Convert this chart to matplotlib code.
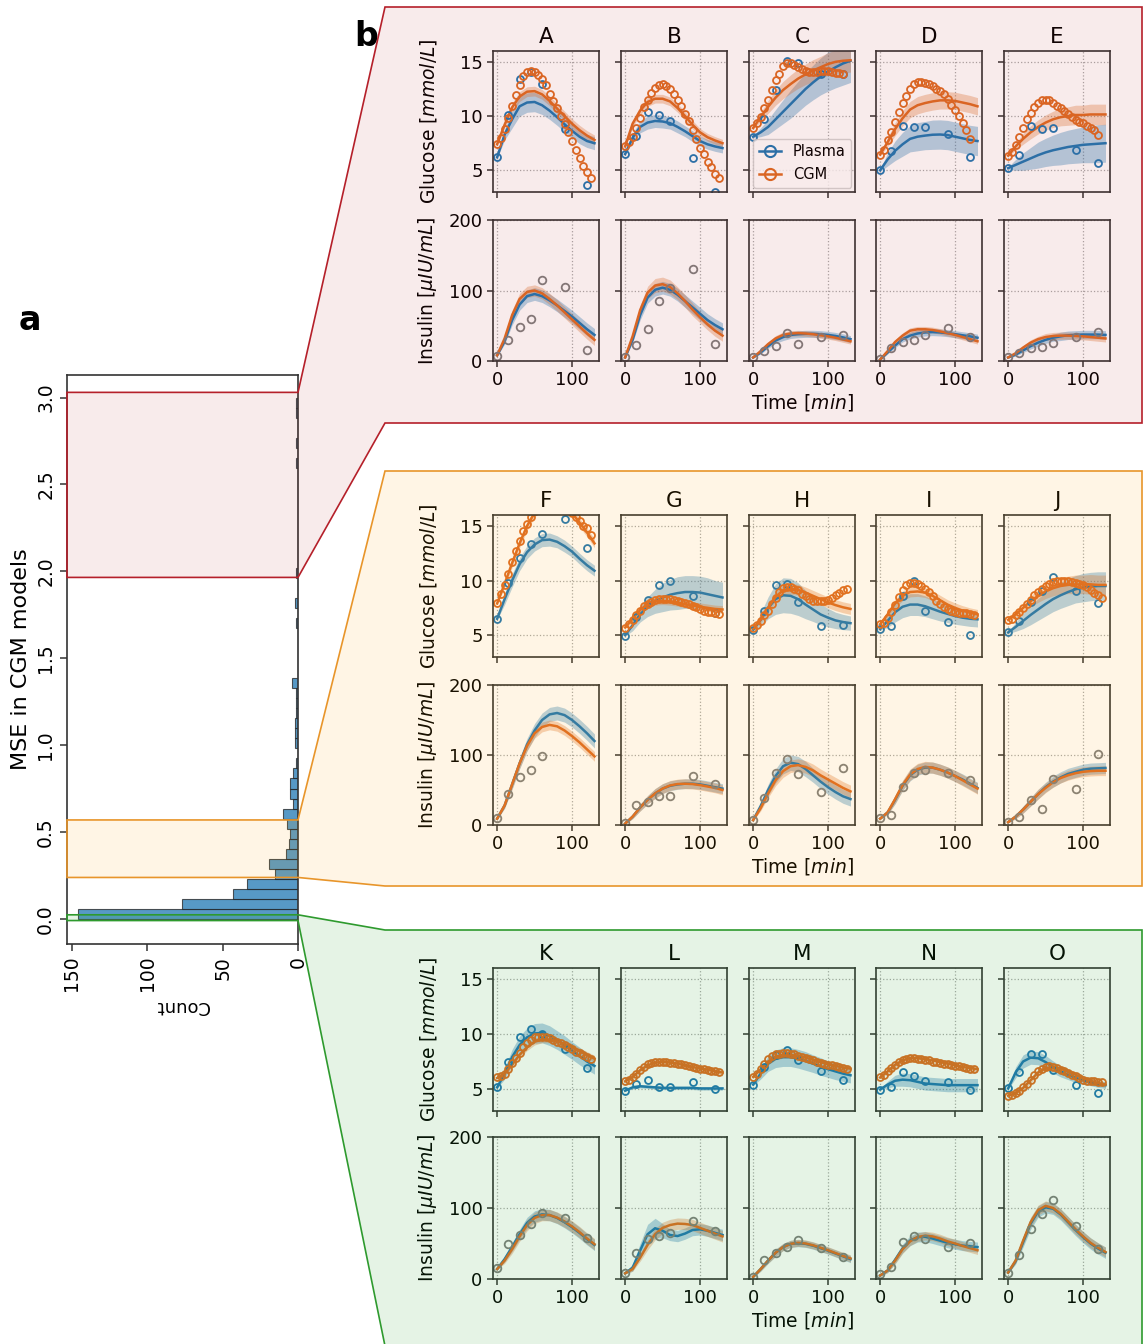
import numpy as np
import matplotlib
matplotlib.use("Agg")
import matplotlib.pyplot as plt
import matplotlib.transforms as mtransforms
from matplotlib.patches import Polygon
from matplotlib.lines import Line2D

W, H = 1148, 1344

PANELS = list("ABCDEFGHIJKLMNO")
T_OGTT = [0, 15, 30, 45, 60, 90, 120]
T_FIT = [0, 10, 20, 30, 40, 50, 60, 70, 80, 90, 100, 110, 120, 130]
CGM_STEP = 5  # minutes between CGM readings

# ---- panel a: histogram of MSE ----
HIST_LO, HIST_HI = 0.0, 3.0
HIST_COUNTS = [146, 77, 43, 34, 15, 19, 8, 6, 5, 7, 10, 3, 5, 5, 3, 1, 0, 2, 2, 2,
               1, 1, 1, 4, 0, 0, 0, 0, 0, 1, 0, 2, 0, 0, 1, 0, 0, 0, 0, 0,
               0, 0, 0, 0, 0, 1, 0, 1, 0, 0, 1, 1]
# MSE ranges highlighted in a (low, high)
MSE_RANGES = [(1.965, 3.03), (0.238, 0.569), (-0.01, 0.023)]

# ---- panel b: glucose ----
GLC_PLASMA_OBS = [
    [6.2, 10.1, 13.4, 14.1, 13.0, 8.8, 3.6],
    [6.5, 8.2, 10.4, 10.1, 9.5, 6.1, 3.0],
    [8.1, 9.75, 12.4, 15.1, 14.85, 13.9, 13.9],
    [5.0, 6.8, 9.1, 8.95, 8.95, 8.35, 6.2],
    [5.2, 6.4, 9.1, 8.85, 8.9, 6.85, 5.7],
    [6.5, 9.8, 12.1, 13.35, 14.3, 15.6, 13.0],
    [4.95, 6.7, 8.2, 9.55, 10.0, 8.55, 7.0],
    [5.5, 7.25, 9.55, 9.65, 8.0, 5.85, 5.95],
    [5.55, 5.85, 8.6, 10.0, 7.25, 6.25, 5.0],
    [5.25, 6.3, 8.0, 9.0, 10.3, 9.0, 7.95],
    [5.15, 7.5, 9.7, 10.5, 10.0, 8.6, 6.95],
    [4.85, 5.5, 5.85, 5.15, 5.15, 5.6, 5.0],
    [5.4, 7.0, 8.1, 8.55, 7.6, 6.6, 5.85],
    [4.95, 5.2, 6.55, 6.15, 5.75, 5.6, 4.9],
    [5.05, 6.55, 8.2, 8.15, 6.7, 5.4, 4.6],
]

GLC_CGM_OBS = [
    [7.4, 8.0, 8.8, 9.8, 10.9, 11.9, 12.9, 13.7, 14.1, 14.2, 14.1, 13.8, 13.4, 12.9, 12.0, 11.4, 10.7, 10.0, 9.3, 8.5, 7.7, 6.9, 6.1, 5.4, 4.8, 4.3],
    [7.25, 7.65, 8.1, 8.9, 9.8, 10.8, 11.5, 12.1, 12.6, 12.9, 13.0, 12.8, 12.5, 12.0, 11.5, 10.9, 10.2, 9.5, 8.7, 7.9, 7.1, 6.5, 5.8, 5.3, 4.7, 4.3],
    [8.9, 9.4, 9.9, 10.75, 11.5, 12.4, 13.3, 13.9, 14.6, 14.9, 14.9, 14.75, 14.55, 14.3, 14.15, 14.1, 14.1, 14.1, 14.15, 14.2, 14.2, 14.1, 14.0, 13.95, 13.9],
    [6.45, 6.9, 7.75, 8.55, 9.45, 10.4, 11.2, 11.85, 12.5, 12.95, 13.15, 13.15, 13.05, 12.95, 12.75, 12.5, 12.3, 12.0, 11.6, 11.05, 10.55, 10.0, 9.4, 8.7, 7.85],
    [6.35, 6.7, 7.3, 8.1, 8.9, 9.7, 10.3, 10.8, 11.2, 11.45, 11.5, 11.45, 11.2, 10.95, 10.7, 10.45, 10.2, 9.95, 9.65, 9.45, 9.35, 9.05, 8.9, 8.75, 8.3],
    [7.9, 8.75, 9.55, 10.6, 11.7, 12.7, 13.65, 14.5, 15.2, 15.85, 16.4, 16.9, 17.3, 17.6, 17.7, 17.7, 17.5, 17.2, 16.9, 16.6, 16.2, 15.85, 15.45, 15.0, 14.8, 14.2],
    [5.7, 6.0, 6.4, 6.85, 7.25, 7.65, 7.85, 8.05, 8.25, 8.3, 8.3, 8.3, 8.3, 8.25, 8.15, 8.05, 7.95, 7.85, 7.7, 7.55, 7.4, 7.25, 7.15, 7.1, 7.0, 6.95],
    [5.7, 5.9, 6.3, 6.8, 7.25, 7.85, 8.4, 8.95, 9.35, 9.45, 9.4, 9.25, 9.1, 8.8, 8.55, 8.3, 8.15, 8.1, 8.1, 8.1, 8.2, 8.4, 8.65, 8.9, 9.1, 9.25],
    [6.05, 6.15, 6.55, 7.1, 7.75, 8.5, 9.1, 9.55, 9.75, 9.75, 9.7, 9.5, 9.25, 8.95, 8.55, 8.15, 7.85, 7.55, 7.35, 7.2, 7.1, 7.05, 7.05, 7.0, 6.95, 6.85],
    [6.4, 6.45, 6.8, 7.1, 7.45, 7.85, 8.25, 8.65, 8.95, 9.25, 9.5, 9.7, 9.85, 9.95, 10.0, 10.0, 10.0, 9.9, 9.8, 9.7, 9.55, 9.4, 9.1, 8.9, 8.65, 8.4],
    [6.1, 6.2, 6.4, 6.85, 7.35, 7.85, 8.3, 8.8, 9.2, 9.5, 9.7, 9.75, 9.75, 9.7, 9.6, 9.45, 9.3, 9.15, 9.0, 8.8, 8.6, 8.4, 8.25, 8.1, 7.9, 7.75],
    [5.7, 5.85, 6.05, 6.4, 6.7, 7.0, 7.25, 7.35, 7.45, 7.45, 7.45, 7.45, 7.4, 7.35, 7.3, 7.25, 7.15, 7.05, 7.0, 6.9, 6.85, 6.8, 6.75, 6.65, 6.6, 6.55],
    [6.1, 6.4, 6.85, 7.3, 7.7, 8.0, 8.15, 8.2, 8.3, 8.3, 8.2, 8.15, 8.0, 7.9, 7.8, 7.7, 7.6, 7.5, 7.4, 7.3, 7.2, 7.15, 7.1, 7.0, 6.95, 6.85],
    [6.1, 6.3, 6.6, 6.9, 7.2, 7.45, 7.65, 7.75, 7.8, 7.8, 7.75, 7.7, 7.65, 7.6, 7.5, 7.45, 7.4, 7.3, 7.25, 7.2, 7.1, 7.05, 7.0, 6.9, 6.85, 6.8],
    [4.4, 4.45, 4.65, 4.85, 5.15, 5.45, 5.85, 6.25, 6.6, 6.85, 7.0, 7.05, 7.0, 6.9, 6.75, 6.6, 6.45, 6.3, 6.15, 6.0, 5.85, 5.75, 5.7, 5.7, 5.6, 5.6],
]

GLC_PLASMA_FIT = [
    [6.2, 8.3, 9.7, 10.9, 11.25, 11.3, 11.0, 10.5, 9.9, 9.25, 8.65, 8.1, 7.7, 7.5],
    [6.5, 8.0, 9.0, 9.4, 9.55, 9.5, 9.35, 9.0, 8.6, 8.15, 7.7, 7.4, 7.2, 7.05],
    [8.1, 8.5, 9.0, 9.7, 10.4, 11.1, 11.8, 12.5, 13.1, 13.65, 14.1, 14.5, 14.85, 15.1],
    [5.0, 6.0, 6.8, 7.4, 7.9, 8.1, 8.2, 8.28, 8.3, 8.25, 8.1, 7.95, 7.8, 7.7],
    [5.2, 5.5, 5.8, 6.1, 6.4, 6.65, 6.85, 7.0, 7.15, 7.25, 7.35, 7.4, 7.45, 7.5],
    [6.5, 8.3, 10.0, 11.5, 12.6, 13.3, 13.7, 13.75, 13.55, 13.15, 12.65, 12.0, 11.4, 10.9],
    [5.0, 5.9, 6.9, 7.6, 8.1, 8.45, 8.7, 8.85, 8.95, 8.95, 8.9, 8.75, 8.6, 8.45],
    [5.5, 6.4, 7.5, 8.3, 8.65, 8.6, 8.3, 7.8, 7.35, 6.9, 6.6, 6.35, 6.2, 6.1],
    [5.55, 6.3, 7.1, 7.6, 7.8, 7.8, 7.65, 7.4, 7.15, 6.95, 6.75, 6.6, 6.5, 6.45],
    [5.25, 5.75, 6.3, 6.85, 7.35, 7.85, 8.3, 8.65, 8.95, 9.2, 9.35, 9.45, 9.5, 9.5],
    [5.15, 6.4, 7.9, 9.0, 9.7, 10.05, 10.1, 9.85, 9.45, 9.0, 8.5, 8.0, 7.5, 7.1],
    [4.85, 5.15, 5.25, 5.2, 5.15, 5.1, 5.1, 5.1, 5.1, 5.1, 5.05, 5.05, 5.05, 5.05],
    [5.4, 6.4, 7.3, 7.75, 7.9, 7.9, 7.75, 7.55, 7.3, 7.05, 6.8, 6.6, 6.4, 6.25],
    [4.95, 5.4, 5.75, 5.85, 5.8, 5.65, 5.5, 5.45, 5.4, 5.35, 5.35, 5.35, 5.35, 5.35],
    [5.05, 6.5, 7.5, 7.85, 7.8, 7.45, 7.0, 6.6, 6.3, 6.0, 5.8, 5.6, 5.45, 5.35],
]
GLC_PLASMA_HW = [
    [0.1, 0.5, 0.8, 0.9, 0.9, 0.9, 0.85, 0.8, 0.75, 0.7, 0.65, 0.65, 0.6, 0.6],
    [0.1, 0.4, 0.55, 0.6, 0.6, 0.6, 0.55, 0.55, 0.5, 0.5, 0.45, 0.45, 0.45, 0.45],
    [0.1, 0.4, 0.7, 0.9, 1.1, 1.3, 1.4, 1.5, 1.6, 1.7, 1.8, 1.9, 2.0, 2.0],
    [0.1, 0.6, 0.9, 1.1, 1.2, 1.3, 1.3, 1.35, 1.35, 1.35, 1.35, 1.35, 1.35, 1.35],
    [0.1, 0.5, 0.8, 1.0, 1.2, 1.3, 1.4, 1.5, 1.55, 1.6, 1.65, 1.7, 1.75, 1.75],
    [0.1, 0.5, 0.6, 0.6, 0.6, 0.6, 0.6, 0.6, 0.55, 0.55, 0.5, 0.5, 0.5, 0.5],
    [0.1, 0.5, 0.7, 0.9, 1.1, 1.3, 1.4, 1.5, 1.5, 1.5, 1.5, 1.5, 1.4, 1.4],
    [0.1, 0.6, 1.0, 1.4, 1.6, 1.6, 1.5, 1.3, 1.1, 0.95, 0.85, 0.75, 0.7, 0.65],
    [0.1, 0.6, 0.9, 1.0, 1.0, 1.0, 0.95, 0.9, 0.85, 0.8, 0.75, 0.7, 0.7, 0.7],
    [0.1, 0.4, 0.7, 0.9, 1.0, 1.1, 1.15, 1.2, 1.25, 1.25, 1.3, 1.3, 1.3, 1.3],
    [0.1, 0.5, 0.7, 0.8, 0.85, 0.9, 0.9, 0.9, 0.85, 0.85, 0.8, 0.8, 0.75, 0.75],
    [0.05, 0.15, 0.15, 0.15, 0.15, 0.15, 0.15, 0.15, 0.15, 0.15, 0.15, 0.15, 0.15, 0.15],
    [0.1, 0.5, 0.7, 0.8, 0.85, 0.85, 0.85, 0.85, 0.8, 0.8, 0.75, 0.75, 0.7, 0.7],
    [0.05, 0.3, 0.5, 0.6, 0.6, 0.6, 0.6, 0.6, 0.6, 0.6, 0.6, 0.6, 0.6, 0.6],
    [0.1, 0.5, 0.6, 0.6, 0.6, 0.6, 0.55, 0.5, 0.45, 0.4, 0.35, 0.3, 0.3, 0.3],
]

GLC_CGM_FIT = [
    [7.4, 9.2, 10.8, 11.8, 12.25, 12.3, 12.0, 11.4, 10.7, 10.0, 9.3, 8.7, 8.2, 7.8],
    [7.2, 9.3, 10.5, 11.3, 11.6, 11.6, 11.35, 10.75, 10.0, 9.2, 8.5, 8.05, 7.75, 7.5],
    [8.9, 9.9, 10.85, 11.7, 12.4, 12.95, 13.45, 13.85, 14.2, 14.5, 14.8, 15.0, 15.1, 15.15],
    [6.45, 7.6, 8.8, 9.8, 10.6, 11.0, 11.2, 11.35, 11.45, 11.45, 11.4, 11.25, 11.1, 10.9],
    [6.35, 7.2, 7.9, 8.5, 9.0, 9.4, 9.7, 9.9, 10.0, 10.1, 10.1, 10.15, 10.15, 10.15],
    [7.9, 9.7, 11.6, 13.4, 15.0, 16.2, 17.0, 17.3, 17.2, 16.8, 16.2, 15.3, 14.4, 13.4],
    [5.7, 6.5, 7.3, 7.85, 8.1, 8.15, 8.1, 8.0, 7.85, 7.7, 7.6, 7.5, 7.4, 7.35],
    [5.6, 6.4, 7.5, 8.5, 9.1, 9.25, 9.15, 8.9, 8.6, 8.3, 8.0, 7.75, 7.55, 7.4],
    [6.0, 6.9, 7.9, 8.6, 8.95, 9.0, 8.9, 8.6, 8.2, 7.8, 7.5, 7.25, 7.05, 6.9],
    [6.4, 6.9, 7.5, 8.1, 8.6, 9.0, 9.3, 9.5, 9.6, 9.65, 9.65, 9.65, 9.6, 9.6],
    [6.0, 6.4, 7.2, 8.1, 8.8, 9.3, 9.5, 9.5, 9.35, 9.1, 8.8, 8.45, 8.1, 7.75],
    [5.7, 6.1, 6.7, 7.15, 7.4, 7.45, 7.4, 7.3, 7.15, 7.0, 6.85, 6.75, 6.6, 6.5],
    [6.1, 6.8, 7.5, 7.95, 8.1, 8.1, 8.0, 7.85, 7.65, 7.45, 7.25, 7.1, 6.95, 6.85],
    [6.05, 6.6, 7.2, 7.6, 7.8, 7.8, 7.7, 7.6, 7.45, 7.3, 7.15, 7.0, 6.9, 6.8],
    [4.4, 4.6, 5.1, 5.8, 6.5, 6.9, 7.0, 6.85, 6.6, 6.3, 6.0, 5.75, 5.55, 5.4],
]
GLC_CGM_HW = [
    [0.1, 0.3, 0.4, 0.45, 0.45, 0.45, 0.45, 0.45, 0.45, 0.45, 0.45, 0.45, 0.45, 0.45],
    [0.1, 0.3, 0.4, 0.4, 0.4, 0.4, 0.4, 0.4, 0.4, 0.4, 0.35, 0.35, 0.35, 0.35],
    [0.1, 0.4, 0.6, 0.7, 0.8, 0.85, 0.9, 0.95, 1.0, 1.0, 1.05, 1.1, 1.1, 1.1],
    [0.1, 0.4, 0.6, 0.7, 0.75, 0.8, 0.8, 0.8, 0.8, 0.8, 0.8, 0.8, 0.8, 0.8],
    [0.1, 0.3, 0.5, 0.6, 0.65, 0.7, 0.75, 0.8, 0.85, 0.9, 0.9, 0.95, 0.95, 0.95],
    [0.1, 0.3, 0.4, 0.4, 0.4, 0.4, 0.4, 0.4, 0.4, 0.4, 0.4, 0.4, 0.4, 0.4],
    [0.1, 0.3, 0.35, 0.35, 0.35, 0.35, 0.35, 0.35, 0.35, 0.35, 0.35, 0.35, 0.35, 0.35],
    [0.1, 0.3, 0.4, 0.45, 0.5, 0.5, 0.5, 0.5, 0.5, 0.5, 0.5, 0.5, 0.5, 0.5],
    [0.1, 0.3, 0.4, 0.45, 0.45, 0.45, 0.45, 0.45, 0.45, 0.45, 0.45, 0.45, 0.45, 0.45],
    [0.1, 0.3, 0.4, 0.5, 0.6, 0.65, 0.7, 0.75, 0.8, 0.85, 0.85, 0.9, 0.9, 0.9],
    [0.1, 0.2, 0.3, 0.3, 0.3, 0.3, 0.3, 0.3, 0.3, 0.3, 0.3, 0.3, 0.3, 0.3],
    [0.1, 0.2, 0.3, 0.3, 0.3, 0.3, 0.3, 0.3, 0.3, 0.3, 0.3, 0.3, 0.3, 0.3],
    [0.1, 0.2, 0.3, 0.3, 0.3, 0.3, 0.3, 0.3, 0.3, 0.3, 0.3, 0.3, 0.3, 0.3],
    [0.1, 0.2, 0.3, 0.3, 0.3, 0.3, 0.3, 0.3, 0.3, 0.3, 0.3, 0.3, 0.3, 0.3],
    [0.1, 0.2, 0.25, 0.25, 0.25, 0.25, 0.25, 0.25, 0.25, 0.25, 0.25, 0.25, 0.25, 0.25],
]

# ---- panel b: insulin ----
NA = float("nan")
INS_OBS = [
    [7.5, 30, 48.7, 59, 115, 104.5, 15.6],
    [5, 22.7, 46, 85.6, 103, 130, 24],
    [6, 14.7, 21, 40, 24, 33.6, 37],
    [2.4, 19, 27.4, 30, 37, 47, 34.5],
    [6, 11, 19, 20, 26, 34.5, 41.6],
    [9.5, 43.7, 68.4, 78.4, 98.3, NA, NA],
    [2.4, 28.5, 33, 41, 41, 70, 58.4],
    [7, 39, 74.6, 95, 73, 47.5, 81.7],
    [10.5, 14, 54.6, 74.6, 78.4, 73.6, 64],
    [4.75, 12, 35.6, 22.3, 65.5, 51.3, 101],
    [15, 49.4, 62, 77.6, 92.7, 85.6, 57.4],
    [8, 37, 57, 60.7, 64.5, 81, 67],
    [3.3, 27, 36, 45.6, 55, 43, 31.5],
    [7, 17.4, 52.7, 60, 56.5, 45.6, 51.3],
    [8, 34, 70.6, 92, 110.6, 74, 42],
]
INS_PLASMA_FIT = [
    [8, 28, 58, 80, 92, 95, 92, 86, 79, 71, 63, 54, 45, 37],
    [5, 30, 65, 90, 101, 104, 101, 94, 85, 76, 67, 58, 51, 45],
    [5, 12, 21, 29, 34, 37, 38, 38.5, 38.5, 38, 37, 35.5, 33.5, 31],
    [2, 12, 22, 31, 36, 39, 40.5, 41, 40.5, 39.5, 38, 36.5, 35, 33],
    [5, 9, 15, 21, 26, 30, 33, 35, 36.5, 37, 37.5, 37.5, 37.5, 37],
    [9, 28, 58, 88, 115, 135, 150, 158, 160, 157, 150, 141, 131, 120],
    [2, 12, 25, 36, 45, 52, 56, 58, 59, 59, 58, 56, 54, 52],
    [7, 27, 50, 70, 84, 89, 87, 80, 71, 62, 54, 47, 41, 37],
    [9, 18, 36, 56, 71, 79, 82, 82, 79, 75, 70, 65, 59, 53],
    [4, 12, 22, 33, 44, 54, 62, 68, 73, 76, 79, 80.5, 81, 81.5],
    [14, 28, 45, 63, 79, 88, 91, 90, 86, 80, 73, 65, 56, 48],
    [8, 16, 40, 63, 71.5, 68, 62, 60.5, 64, 69, 70, 68, 65, 62],
    [3, 14, 26, 37, 45, 49.5, 50.5, 49.5, 47, 43.5, 40, 36, 32, 28],
    [5, 12, 27, 43, 54, 59, 59.5, 57, 54, 51, 49, 47, 46, 45],
    [9, 25, 52, 78, 95, 101, 99, 91, 80, 69, 59, 50, 43, 37],
]
INS_PLASMA_HW = [
    [1, 4, 7, 8, 9, 9, 9, 9, 9, 9, 9, 9, 9, 9],
    [1, 4, 7, 8, 9, 9, 9, 9, 9, 9, 9, 9, 9, 9],
    [1, 2, 3, 4, 5, 5, 5, 5, 5, 5, 5, 5, 5, 5],
    [1, 2, 3, 4, 5, 5, 5, 5, 5, 5, 5, 5, 5, 5],
    [1, 2, 3, 4, 5, 5, 5, 6, 6, 6, 6, 6, 6, 6],
    [1, 4, 7, 8, 9, 10, 10, 10, 10, 10, 10, 10, 10, 10],
    [1, 3, 5, 6, 7, 7, 7, 7, 7, 7, 7, 7, 7, 7],
    [1, 5, 8, 10, 11, 11, 11, 11, 10, 10, 10, 10, 10, 10],
    [1, 3, 6, 7, 8, 8, 8, 8, 8, 8, 8, 8, 8, 8],
    [1, 3, 5, 6, 7, 7, 8, 8, 8, 8, 8, 8, 8, 8],
    [1, 4, 6, 7, 8, 8, 8, 8, 8, 8, 8, 8, 8, 8],
    [1, 5, 10, 14, 14, 10, 8, 8, 8, 8, 8, 8, 8, 8],
    [1, 3, 4, 5, 5, 5, 5, 5, 5, 5, 5, 5, 5, 5],
    [1, 3, 5, 6, 7, 7, 7, 7, 7, 7, 7, 7, 7, 7],
    [1, 4, 7, 8, 8, 8, 8, 8, 8, 8, 8, 8, 8, 8],
]
INS_CGM_FIT = [
    [8, 32, 65, 88, 98, 100, 96, 88, 79, 69, 59, 49, 39, 30],
    [5, 35, 72, 97, 107, 109, 105, 96, 85, 73, 62, 52, 43, 36],
    [5, 14, 24, 32, 37, 39, 39.5, 39, 38, 36.5, 35, 33, 30.5, 28],
    [2, 14, 27, 36, 43, 45, 45, 44, 42, 39.5, 37, 34, 31, 28],
    [5, 11, 19, 26, 31, 34, 35.5, 36, 36, 35.5, 35, 34, 33, 32],
    [9, 28, 58, 88, 113, 131, 140, 143, 141, 135, 127, 118, 108, 98],
    [2, 12, 25, 36, 45, 52, 56.5, 58.5, 59, 58.5, 57, 55, 53, 50],
    [7, 24, 45, 64, 77, 84, 85.5, 83, 78, 71, 65, 59, 53, 48],
    [9, 18, 37, 57, 72, 80, 83, 82, 79, 75, 70, 64, 58, 52],
    [4, 12, 22, 33, 44, 53, 61, 67, 71, 74, 76, 77, 77.5, 77.5],
    [14, 26, 42, 60, 76, 86, 90, 90, 86.5, 81, 74, 66, 57, 49],
    [8, 14, 30, 48, 63, 72, 76, 78, 77.5, 76, 72, 68, 64, 60],
    [3, 14, 26, 37, 45, 49.5, 51, 50, 47.5, 44, 40.5, 36.5, 32.5, 29],
    [5, 12, 26, 42, 53, 59, 61, 60, 57, 53, 50, 46.5, 43.5, 40.5],
    [9, 26, 54, 80, 97, 103, 100, 92, 81, 70, 60, 51, 44, 38],
]
INS_CGM_HW = [
    [1, 4, 7, 8, 8, 8, 8, 8, 8, 8, 8, 8, 8, 8],
    [1, 4, 7, 9, 10, 10, 10, 9, 9, 9, 8, 8, 8, 8],
    [1, 2, 3, 4, 4, 4, 4, 4, 4, 4, 4, 4, 4, 4],
    [1, 2, 3, 4, 4, 4, 4, 4, 4, 4, 4, 4, 4, 4],
    [1, 2, 3, 4, 4, 5, 5, 5, 5, 5, 5, 5, 5, 5],
    [1, 4, 6, 7, 7, 7, 7, 7, 7, 7, 7, 7, 7, 7],
    [1, 3, 5, 6, 7, 7, 7, 7, 7, 7, 7, 7, 7, 7],
    [1, 4, 6, 8, 9, 9, 9, 9, 9, 9, 9, 9, 9, 9],
    [1, 3, 6, 7, 8, 8, 8, 8, 8, 8, 8, 8, 8, 8],
    [1, 3, 5, 6, 7, 7, 7, 7, 7, 7, 7, 7, 7, 7],
    [1, 4, 6, 7, 8, 8, 8, 8, 8, 8, 8, 8, 8, 8],
    [1, 3, 5, 7, 8, 8, 8, 8, 8, 8, 8, 8, 8, 8],
    [1, 3, 4, 5, 5, 5, 5, 5, 5, 5, 5, 5, 5, 5],
    [1, 3, 5, 6, 6, 6, 6, 6, 6, 6, 6, 6, 6, 6],
    [1, 4, 6, 7, 7, 7, 7, 7, 7, 7, 7, 7, 7, 7],
]

BLUE = "#1f77b4"
ORANGE = "#de6c24"
GRAY = "#7f7f7f"
SPINE = "#333333"
BOX_EDGE = ["#b5202a", "#e8952a", "#2e9a2e"]
BOX_FILL = ["#b22222", "#ffa500", "#2ca02c"]
BOX_ALPHA = [0.09, 0.1, 0.12]

# layout in pixels
COL_X = [493, 621, 749, 876, 1004]
COL_W = 106
ROWS = [((51, 192), (220, 361)), ((515, 657), (685, 825)), ((968, 1111), (1137, 1279))]
BOXES = [(385, 7, 1142, 423), (385, 471, 1142, 886), (385, 930, 1142, 1346)]


def px_axes(fig, x0, y0, x1, y1):
    return fig.add_axes([x0 / W, 1 - y1 / H, (x1 - x0) / W, (y1 - y0) / H])


def style(ax):
    for s in ax.spines.values():
        s.set_color(SPINE)
        s.set_linewidth(1.2)
    ax.set_facecolor("none")
    ax.tick_params(labelsize=13, length=4, width=1.1, color=SPINE)
    ax.grid(True, ls=":", color="#aaaaaa", lw=0.9)
    ax.set_axisbelow(True)


def band(ax, fit, hw, color, alpha):
    fit = np.array(fit)
    hw = np.array(hw)
    ax.fill_between(T_FIT, fit - hw, fit + hw, color=color, alpha=alpha, lw=0)


def main():
    fig = plt.figure(figsize=(W / 100, H / 100), dpi=100)

    # ---------- a ----------
    axh = px_axes(fig, 67, 375, 298, 944)
    edges = np.linspace(HIST_LO, HIST_HI, len(HIST_COUNTS) + 1)
    axh.barh(edges[:-1], HIST_COUNTS, height=np.diff(edges), align="edge",
             color=BLUE, alpha=0.75, edgecolor="#222222", lw=0.8)
    axh.set_xlim(153.3, 0)
    axh.set_ylim(-0.145, 3.13)
    axh.set_yticks([0, 0.5, 1.0, 1.5, 2.0, 2.5, 3.0])
    axh.set_xticks([0, 50, 100, 150])
    axh.tick_params(axis="both", labelsize=13.5, length=5, width=1.1, color=SPINE)
    axh.tick_params(axis="y", labelrotation=90)
    axh.tick_params(axis="x", labelrotation=90)
    for lab in axh.get_yticklabels():
        lab.set_va("center")
    axh.set_xlabel("Count", rotation=180, fontsize=13)
    axh.set_ylabel("MSE in CGM models", fontsize=16)
    for s in axh.spines.values():
        s.set_color(SPINE)
        s.set_linewidth(1.2)

    # ---------- b ----------
    for k, name in enumerate(PANELS):
        b, c = divmod(k, 5)
        (g0, g1), (i0, i1) = ROWS[b]
        axg = px_axes(fig, COL_X[c], g0, COL_X[c] + COL_W, g1)
        axi = px_axes(fig, COL_X[c], i0, COL_X[c] + COL_W, i1)

        # glucose
        band(axg, GLC_PLASMA_FIT[k], GLC_PLASMA_HW[k], BLUE, 0.33)
        band(axg, GLC_CGM_FIT[k], GLC_CGM_HW[k], ORANGE, 0.3)
        axg.plot(T_FIT, GLC_PLASMA_FIT[k], color=BLUE, lw=1.8)
        axg.plot(T_FIT, GLC_CGM_FIT[k], color=ORANGE, lw=1.8)
        t_cgm = [CGM_STEP * j for j in range(len(GLC_CGM_OBS[k]))]
        axg.plot(T_OGTT, GLC_PLASMA_OBS[k], "o", mfc="none", mec=BLUE, ms=5, mew=1.3)
        axg.plot(t_cgm, GLC_CGM_OBS[k], "o", mfc="none", mec=ORANGE, ms=5, mew=1.3)

        # insulin
        band(axi, INS_PLASMA_FIT[k], INS_PLASMA_HW[k], BLUE, 0.33)
        band(axi, INS_CGM_FIT[k], INS_CGM_HW[k], ORANGE, 0.3)
        axi.plot(T_FIT, INS_PLASMA_FIT[k], color=BLUE, lw=1.8)
        axi.plot(T_FIT, INS_CGM_FIT[k], color=ORANGE, lw=1.8)
        axi.plot(T_OGTT, INS_OBS[k], "o", mfc="none", mec=GRAY, ms=5.5, mew=1.3)

        for ax in (axg, axi):
            style(ax)
            ax.set_xlim(-5.5, 136)
            ax.set_xticks([0, 100])
        axg.set_ylim(3, 16)
        axg.set_yticks([5, 10, 15])
        axi.set_ylim(0, 200)
        axi.set_yticks([0, 100, 200])
        axg.tick_params(labelbottom=False)
        if c > 0:
            axg.tick_params(labelleft=False)
            axi.tick_params(labelleft=False)
        else:
            axg.set_ylabel("Glucose [$mmol/L$]", fontsize=13.5)
            axi.set_ylabel("Insulin [$\\mu IU/mL$]", fontsize=13.5)
            axg.yaxis.set_label_coords(-0.51, 0.5)
            axi.yaxis.set_label_coords(-0.51, 0.5)
        if c == 2:
            axi.set_xlabel("Time [$min$]", fontsize=13.5, labelpad=2)
        axg.set_title(name, fontsize=15.5, pad=6)

        if k == 2:
            handles = [
                Line2D([], [], color=BLUE, marker="o", mfc="none", lw=1.8, ms=8, mew=1.5),
                Line2D([], [], color=ORANGE, marker="o", mfc="none", lw=1.8, ms=8, mew=1.5),
            ]
            axg.legend(handles, ["Plasma", "CGM"], loc="lower left", fontsize=10.5,
                       handlelength=1.5, borderaxespad=0.3, framealpha=0.8)

    # ---------- zoom connectors ----------
    trans = mtransforms.blended_transform_factory(axh.transAxes, axh.transData)
    inv = fig.transFigure.inverted()

    def hpt(xa, yd):
        return inv.transform(trans.transform((xa, yd)))

    for (lo, hi), (x0, y0, x1, y1), ec, fc, al in zip(MSE_RANGES, BOXES, BOX_EDGE, BOX_FILL, BOX_ALPHA):
        verts = [hpt(0, hi), hpt(1, hi),
                 (x0 / W, 1 - y0 / H), (x1 / W, 1 - y0 / H),
                 (x1 / W, 1 - y1 / H), (x0 / W, 1 - y1 / H),
                 hpt(1, lo), hpt(0, lo)]
        fcol = matplotlib.colors.to_rgba(fc, al)
        fig.add_artist(Polygon(verts, closed=True, transform=fig.transFigure,
                               facecolor=fcol, edgecolor=ec, lw=1.2, zorder=5))

    fig.text(30 / W, 1 - 320 / H, "a", fontsize=24, fontweight="bold", ha="center", va="center")
    fig.text(366 / W, 1 - 36 / H, "b", fontsize=24, fontweight="bold", ha="center", va="center")

    fig.savefig("out.png", dpi=100)
    return 0


if __name__ == "__main__":
    raise SystemExit(main())
